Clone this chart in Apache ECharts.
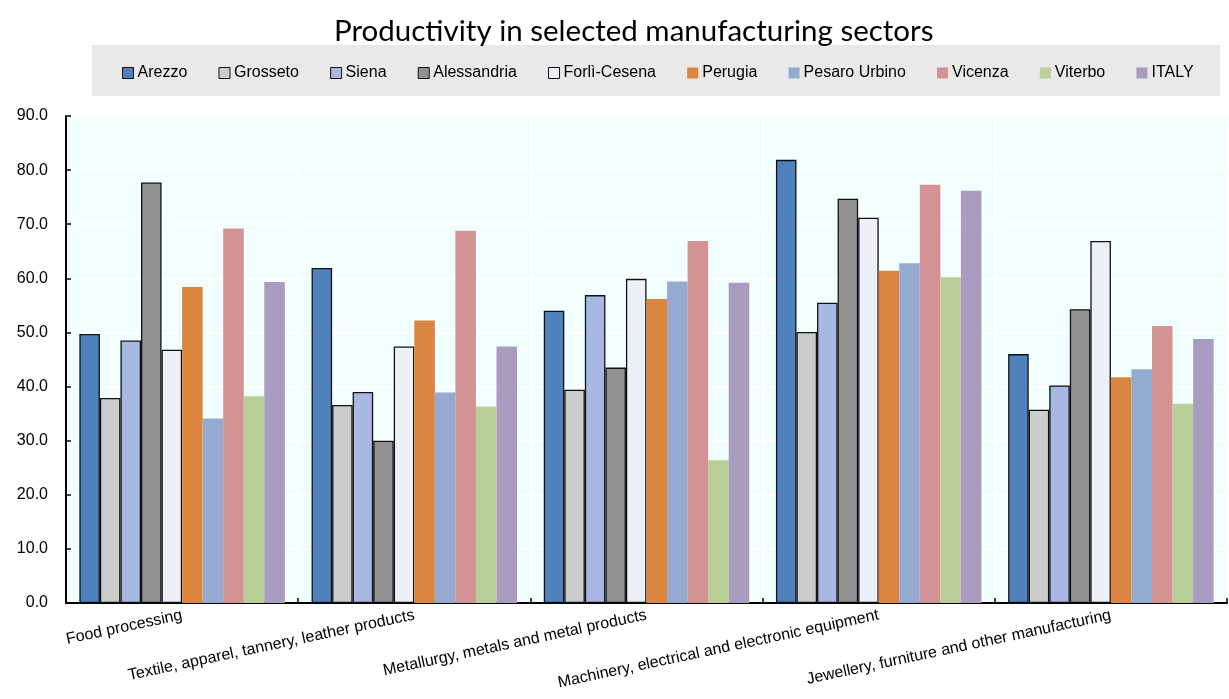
<!DOCTYPE html>
<html>
<head>
<meta charset="utf-8">
<title>Productivity in selected manufacturing sectors</title>
<script src="https://cdn.jsdelivr.net/npm/echarts@6/dist/echarts.min.js"></script>
<style>
  html, body { margin: 0; padding: 0; background: #ffffff; }
  #chart { width: 1229px; height: 699px; }
</style>
</head>
<body>
<div id="chart"></div>
<script>
// Sectors on the category axis
const categories = [
  'Food processing',
  'Textile, apparel, tannery, leather products',
  'Metallurgy, metals and metal products',
  'Machinery, electrical and electronic equipment',
  'Jewellery, furniture and other manufacturing'
];

// Productivity by area, one value per sector
const arezzo      = [49.7, 61.9, 54.0, 81.9, 46.0];
const grosseto    = [37.9, 36.6, 39.4, 50.1, 35.7];
const siena       = [48.5, 39.0, 56.9, 55.5, 40.2];
const alessandria = [77.7, 30.0, 43.5, 74.7, 54.3];
const forliCesena = [46.8, 47.4, 59.9, 71.2, 66.9];
const perugia     = [58.4, 52.2, 56.2, 61.4, 41.7];
const pesaroUrbino= [34.1, 38.9, 59.4, 62.8, 43.2];
const vicenza     = [69.2, 68.8, 66.9, 77.3, 51.2];
const viterbo     = [38.2, 36.3, 26.4, 60.2, 36.8];
const italy       = [59.3, 47.4, 59.2, 76.2, 48.8];

const seriesNames = ['Arezzo', 'Grosseto', 'Siena', 'Alessandria', 'Forlì-Cesena',
                     'Perugia', 'Pesaro Urbino', 'Vicenza', 'Viterbo', 'ITALY'];
const seriesData = [arezzo, grosseto, siena, alessandria, forliCesena,
                    perugia, pesaroUrbino, vicenza, viterbo, italy];
const seriesColors = ['#4f81bd', '#cccccc', '#a9b8e2', '#929292', '#edf0f9',
                      '#dc8540', '#95aacf', '#d39293', '#bacf97', '#aa9bc0'];
// the first five areas are outlined in black
const outlined = [true, true, true, true, true, false, false, false, false, false];

const yTicks = { min: 0, max: 90, interval: 10 };

const chart = echarts.init(document.getElementById('chart'), null, { renderer: 'canvas' });

const series = seriesNames.map((name, i) => ({
  name: name,
  type: 'bar',
  data: seriesData[i],
  barGap: '0%',
  barCategoryGap: '11.5%',
  itemStyle: {
    color: seriesColors[i],
    borderColor: outlined[i] ? '#111111' : seriesColors[i],
    borderWidth: outlined[i] ? 1.3 : 0
  },
  emphasis: { disabled: true }
}));

chart.setOption({
  animation: false,
  backgroundColor: '#ffffff',
  title: {
    text: 'Productivity in selected manufacturing sectors',
    left: 329,
    top: 11,
    textStyle: {
      fontFamily: 'Lato, "Open Sans", sans-serif',
      fontSize: 29.5,
      fontWeight: 'normal',
      color: '#000000'
    }
  },
  graphic: [{
    type: 'rect',
    z: -1,
    shape: { x: 92, y: 45, width: 1128, height: 51 },
    style: { fill: '#e9e9e9' }
  }],
  legend: {
    left: 122,
    top: 65,
    padding: 0,
    itemWidth: 11,
    itemHeight: 11,
    itemGap: 31.2,
    icon: 'rect',
    data: seriesNames.map((n, i) => ({
      name: n,
      itemStyle: {
        color: seriesColors[i],
        borderColor: outlined[i] ? '#111111' : seriesColors[i],
        borderWidth: outlined[i] ? 1 : 0
      }
    })),
    textStyle: {
      fontFamily: '"Liberation Sans", Arial, sans-serif',
      fontSize: 16,
      color: '#000000',
      padding: [0, 0, 0, -1]
    }
  },
  grid: {
    left: 66,
    right: 2,
    top: 116,
    bottom: 96,
    show: true,
    backgroundColor: '#f2ffff',
    borderWidth: 0
  },
  xAxis: {
    type: 'category',
    data: categories,
    axisLine: { show: true, lineStyle: { color: '#000000', width: 2 } },
    axisTick: { show: true, inside: true, length: 5, lineStyle: { color: '#000000', width: 1.5 } },
    splitLine: { show: true, lineStyle: { color: '#ffffff', width: 2 } },
    axisLabel: {
      rotate: 12,
      margin: 12,
      interval: 0,
      fontFamily: '"Liberation Sans", Arial, sans-serif',
      fontSize: 16,
      color: '#000000'
    }
  },
  yAxis: {
    type: 'value',
    min: yTicks.min,
    max: yTicks.max,
    interval: yTicks.interval,
    axisLine: { show: true, lineStyle: { color: '#000000', width: 2 } },
    axisTick: { show: true, inside: true, length: 5, lineStyle: { color: '#000000', width: 1.5 } },
    splitLine: { show: true, lineStyle: { color: '#ffffff', width: 2 } },
    axisLabel: {
      formatter: v => v.toFixed(1),
      margin: 18,
      fontFamily: '"Liberation Sans", Arial, sans-serif',
      fontSize: 16,
      color: '#000000'
    }
  },
  series: series
});
</script>
</body>
</html>
